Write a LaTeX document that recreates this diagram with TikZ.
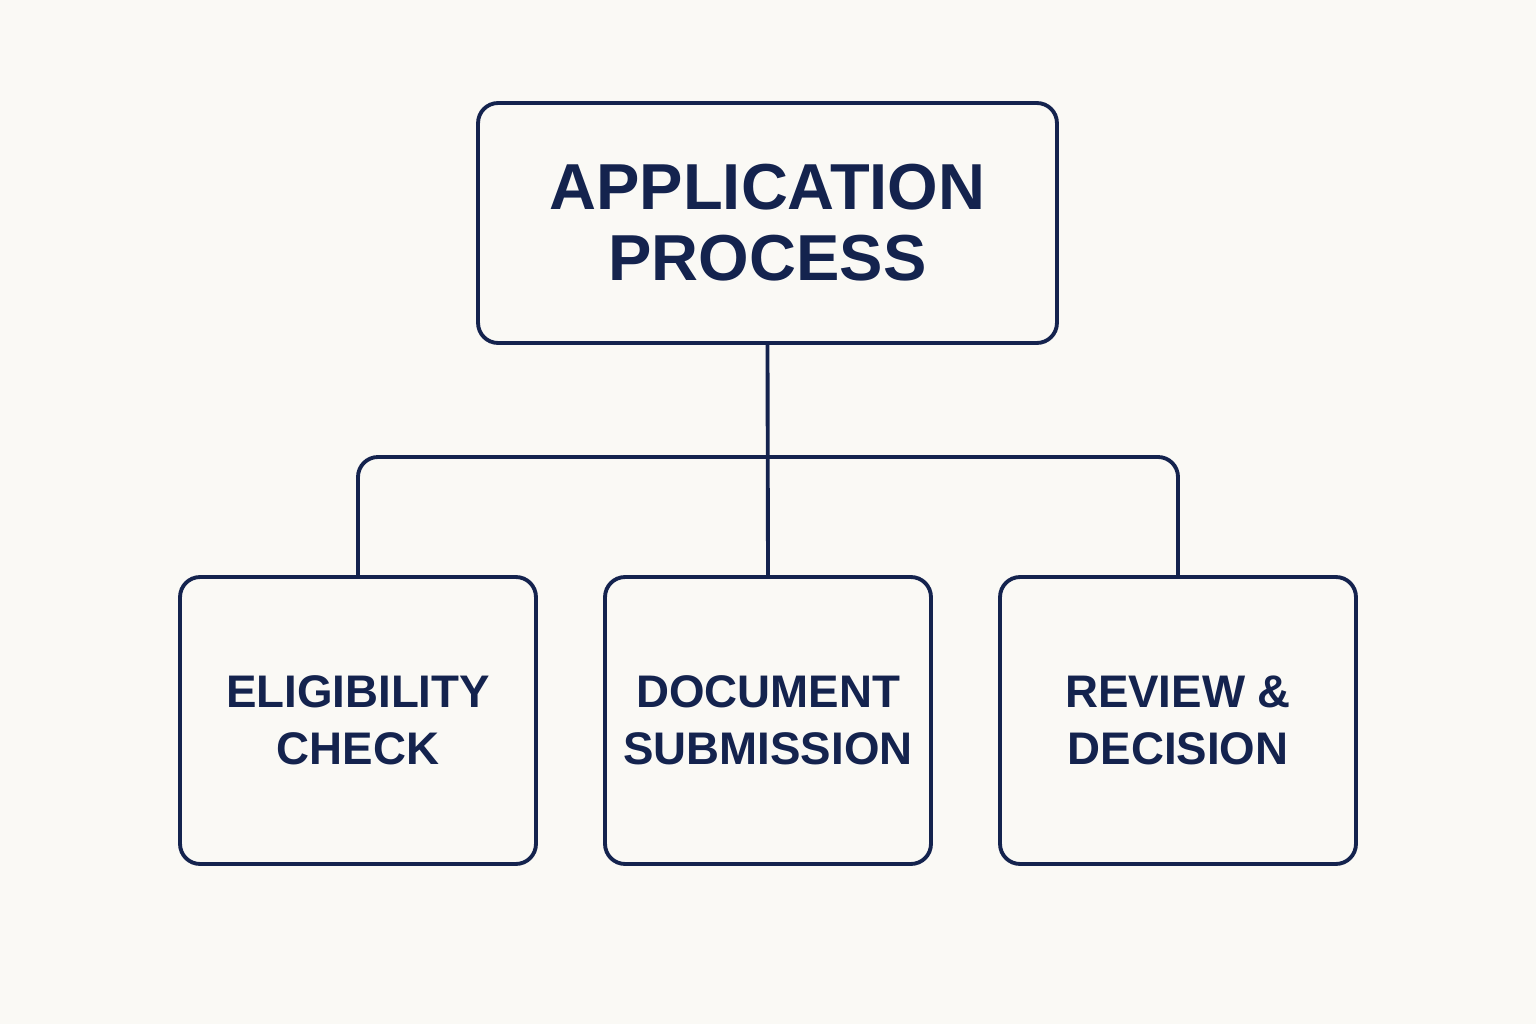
\documentclass[tikz,border=0pt]{standalone}
\usepackage{fontspec}
\setmainfont{Liberation Sans}
\usepackage{xcolor}
\usepackage{tikz}
\usetikzlibrary{positioning,calc}

\definecolor{navy}{RGB}{20,35,78}
\definecolor{paper}{RGB}{250,249,245}

\tikzset{
	topbox/.style={draw=navy, line width=2.2pt, rounded corners=0.4cm, minimum width=11.58cm, minimum height=4.8cm, align=center, text=navy, font=\fontsize{37}{40.5}\selectfont\bfseries},
	stepbox/.style={draw=navy, line width=2.2pt, rounded corners=0.4cm, minimum height=5.74cm, align=center, text=navy, font=\fontsize{26}{32.4}\selectfont\bfseries},
	link/.style={draw=navy, line width=2.2pt, rounded corners=0.4cm}
}

\begin{document}
\begin{tikzpicture}[x=0.02cm, y=-0.02cm]
	\fill[paper] (0,0) rectangle (1536,1024);
	\useasboundingbox (0,0) rectangle (1536,1024);

	\node[topbox] (app) at (767.5,223) {APPLICATION\\PROCESS};

	\node[stepbox, minimum width=7.12cm] (elig) at (358,720.5) {ELIGIBILITY\\CHECK};
	\node[stepbox, minimum width=6.52cm] (doc) at (768,720.5) {DOCUMENT\\SUBMISSION};
	\node[stepbox, minimum width=7.12cm] (rev) at (1178,720.5) {REVIEW \&\\DECISION};

	\coordinate (bus) at (768,457);
	\draw[link] (app.south) -- (doc.north);
	\draw[link] (elig.north) |- (bus) -| (rev.north);
\end{tikzpicture}
\end{document}
